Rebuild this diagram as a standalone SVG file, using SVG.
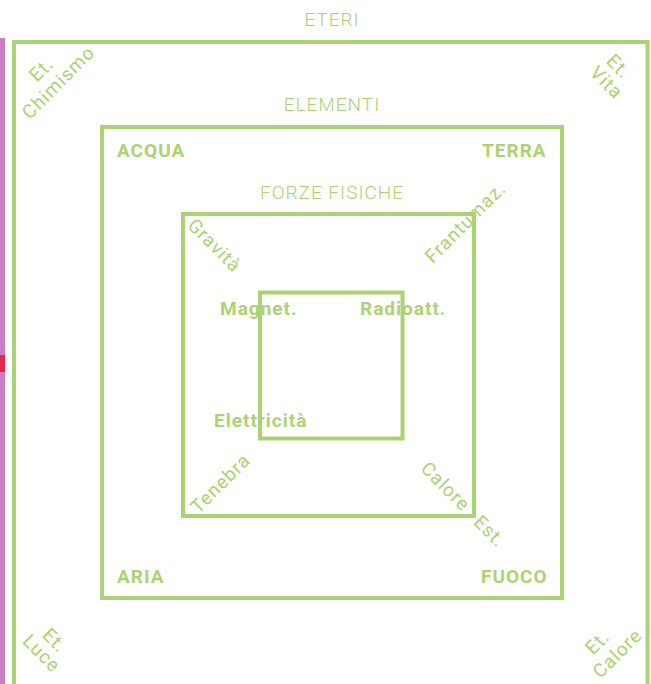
<svg xmlns="http://www.w3.org/2000/svg" width="651" height="684" viewBox="0 0 651 684">
<style>
.frame{fill:none;stroke:#acd373;stroke-width:4}
.title{font-family:Roboto,"Liberation Sans",sans-serif;font-size:19px;font-weight:300;fill:#acd373;letter-spacing:1px;text-anchor:middle}
.bold{font-family:Roboto,"Liberation Sans",sans-serif;font-size:19px;font-weight:700;fill:#acd373;letter-spacing:1px}
.rot{font-family:Roboto,"Liberation Sans",sans-serif;font-size:19px;font-weight:400;fill:#acd373;letter-spacing:1px;text-anchor:middle}
</style>
<rect width="651" height="684" fill="#ffffff"/>
<g id="side-strip">
<rect x="0" y="38" width="5" height="646" fill="#c97fc2"/>
<rect x="0" y="355" width="5" height="17" fill="#de2a55"/>
</g>
<g id="eteri">
<path class="frame" d="M14 690 V42 H647.5 V690"/>
<text class="title" x="332" y="26">ETERI</text>
<text class="rot" transform="translate(41 69) rotate(-45)" y="7">Et.</text>
<text class="rot" transform="translate(58 82) rotate(-45)" y="7">Chimismo</text>
<text class="rot" transform="translate(619 66) rotate(45)" y="7">Et.</text>
<text class="rot" transform="translate(607 82) rotate(45)" y="7">Vita</text>
<text class="rot" transform="translate(55 640) rotate(45)" y="7">Et.</text>
<text class="rot" transform="translate(42 653) rotate(45)" y="7">Luce</text>
<text class="rot" transform="translate(597 642) rotate(-45)" y="7">Et.</text>
<text class="rot" transform="translate(617 653) rotate(-45)" y="7">Calore</text>
</g>
<g id="elementi">
<rect class="frame" x="102" y="127" width="460" height="471"/>
<text class="title" x="332" y="111">ELEMENTI</text>
<text class="bold" x="117" y="157">ACQUA</text>
<text class="bold" x="482" y="157">TERRA</text>
<text class="bold" x="117" y="583">ARIA</text>
<text class="bold" x="481" y="583">FUOCO</text>
</g>
<g id="forze-fisiche">
<rect class="frame" x="183" y="214" width="291" height="302"/>
<text class="title" x="332" y="199">FORZE FISICHE</text>
<text class="rot" transform="translate(215 245) rotate(45)" y="7">Gravità</text>
<text class="rot" transform="translate(465 222) rotate(-45)" y="7">Frantumaz.</text>
<text class="rot" transform="translate(220 483) rotate(-45)" y="7">Tenebra</text>
<text class="rot" transform="translate(446 486) rotate(45)" y="7">Calore</text>
<text class="rot" transform="translate(490 531) rotate(45)" y="7">Est.</text>
</g>
<g id="centro">
<rect class="frame" x="260" y="292.5" width="142.5" height="146"/>
<text class="bold" x="220" y="315">Magnet.</text>
<text class="bold" x="360" y="315">Radioatt.</text>
<text class="bold" x="214" y="427">Elettricità</text>
</g>
<g id="connectors"/>
</svg>
